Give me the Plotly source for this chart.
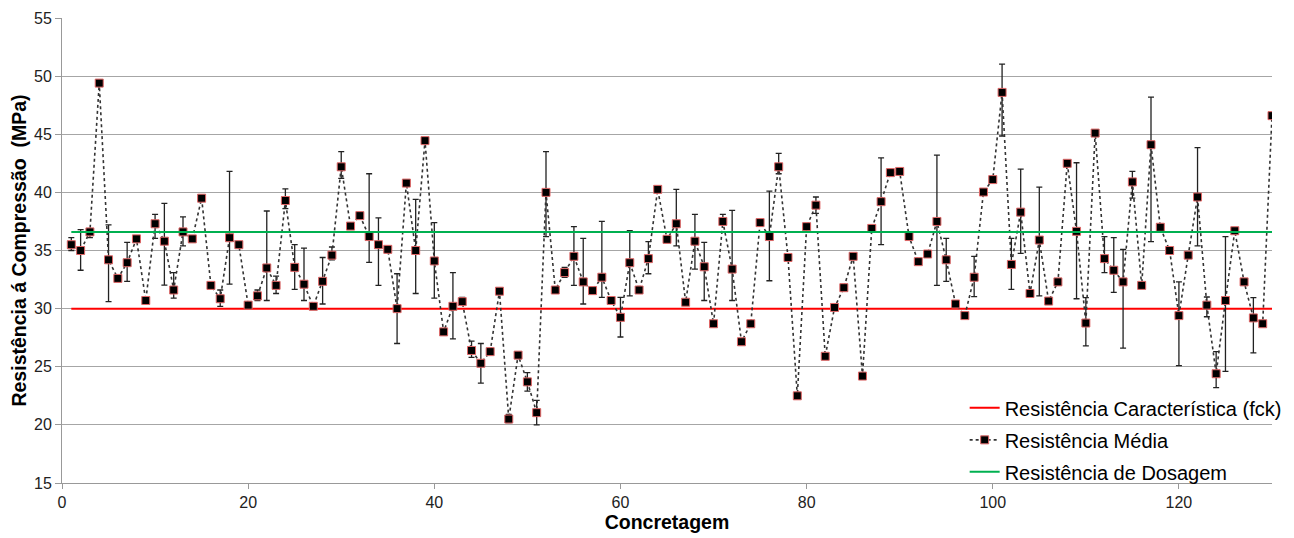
import plotly.graph_objects as go

concretagem = list(range(1, 131))

resistencia_media = [
    35.5, 35.0, 36.6, 49.4, 34.2, 32.6, 33.95, 36.0, 30.7, 37.3,
    35.8, 31.6, 36.6, 36.0, 39.5, 32.0, 30.85, 36.1, 35.5, 30.3,
    31.1, 33.5, 32.0, 39.3, 33.55, 32.1, 30.2, 32.35, 34.6, 42.2,
    37.1, 38.0, 36.2, 35.5, 35.1, 30.0, 40.8, 35.0, 44.45, 34.1,
    28.0, 30.2, 30.6, 26.4, 25.3, 26.3, 31.5, 20.5, 26.0, 23.7,
    21.05, 40.0, 31.6, 33.1, 34.5, 32.3, 31.55, 32.7, 30.7, 29.25,
    33.95, 31.6, 34.3, 40.26, 35.96, 37.3, 30.55, 35.8, 33.6, 28.7,
    37.5, 33.4, 27.15, 28.7, 37.4, 36.2, 42.2, 34.4, 22.5, 37.05,
    38.9, 25.9, 30.1, 31.8, 34.5, 24.2, 36.9, 39.2, 41.7, 41.8,
    36.2, 34.04, 34.7, 37.5, 34.2, 30.4, 29.4, 32.7, 40.03, 41.1,
    48.6, 33.8, 38.3, 31.3, 35.9, 30.65, 32.3, 42.5, 36.65, 28.76,
    45.1, 34.3, 33.3, 32.3, 40.9, 32.0, 44.1, 37.0, 35.0, 29.4,
    34.6, 39.6, 30.3, 24.4, 30.7, 36.7, 32.3, 29.2, 28.7, 46.6,
]

erro_sup = [
    36.1, 36.8, 36.8, None, 37.2, None, 35.7, None, None, 38.1,
    39.06, 33.1, 37.9, None, None, None, 31.6, 41.8, None, None,
    31.6, 38.4, 32.8, 40.3, 35.5, 35.2, None, 34.4, 35.3, 43.5,
    None, None, 41.6, 37.8, None, 33.0, None, 39.4, None, 37.4,
    None, 33.1, 30.97, 27.2, 27.0, None, None, 20.9, None, 24.5,
    22.1, 43.5, None, 33.55, 37.05, 36.05, None, 37.5, None, 30.97,
    36.7, None, 35.76, None, None, 40.26, None, 38.1, 35.7, None,
    38.1, 38.45, None, None, None, 40.1, 43.36, None, None, None,
    39.6, None, None, None, None, None, None, 42.96, None, None,
    None, None, None, 43.2, 36.05, None, None, 34.5, None, None,
    51.04, 36.05, 42.0, None, 40.46, None, None, None, 42.55, 30.94,
    None, 36.2, 36.1, 35.1, 41.8, None, 48.2, None, None, 32.3,
    None, 43.85, 31.0, 26.3, 36.2, None, None, 30.94, None, None,
]

erro_inf = [
    35.0, 33.3, 36.1, None, 30.6, None, 32.35, None, None, 36.05,
    32.03, 30.9, 35.4, None, None, None, 30.2, 32.1, None, None,
    30.7, 30.7, 31.3, 38.6, 31.65, 30.7, None, 30.4, 34.2, 41.2,
    None, None, 33.98, 32.0, None, 27.0, None, 31.3, None, 30.9,
    None, 27.4, 30.6, 25.8, 23.6, None, None, 20.2, None, 22.9,
    20.0, 36.2, None, 32.7, 32.0, 30.4, None, 30.97, None, 27.56,
    31.1, None, 33.0, None, None, 35.4, None, 33.4, 30.7, None,
    37.5, 30.7, None, None, None, 32.4, 41.6, None, None, None,
    38.2, None, None, None, None, None, None, 35.5, None, None,
    None, None, None, 32.0, 32.35, None, None, 31.03, None, None,
    44.85, 31.66, 34.76, None, 31.1, None, None, None, 30.85, 26.8,
    None, 33.1, 31.4, 26.6, 39.5, None, 35.76, None, None, 25.1,
    None, 35.4, 29.3, 23.2, 24.6, None, None, 26.2, None, None,
]

fck = 30.0
dosagem = 36.6

y_ticks = [15, 20, 25, 30, 35, 40, 45, 50, 55]
x_ticks = [0, 20, 40, 60, 80, 100, 120]

plus = [(s - m) if s is not None else 0 for s, m in zip(erro_sup, resistencia_media)]
minus = [(m - i) if i is not None else 0 for i, m in zip(erro_inf, resistencia_media)]

fig = go.Figure()

fig.add_trace(go.Scatter(
    x=concretagem, y=[fck] * len(concretagem), mode="lines",
    line=dict(color="#ff0000", width=2),
    name="Resistência Característica (fck)", legendgroup="a",
))
fig.add_trace(go.Scatter(
    x=concretagem, y=resistencia_media, mode="lines+markers",
    line=dict(color="#333333", width=1.6, dash="dot"),
    marker=dict(symbol="square", size=8, color="#000000",
                line=dict(color="#e06666", width=1)),
    error_y=dict(type="data", symmetric=False, array=plus, arrayminus=minus,
                 color="#222222", thickness=1.3, width=3),
    name="Resistência Média", legendgroup="b",
))
fig.add_trace(go.Scatter(
    x=concretagem, y=[dosagem] * len(concretagem), mode="lines",
    line=dict(color="#00b050", width=2),
    name="Resistência de Dosagem", legendgroup="c",
))

font_family = "Liberation Sans, Arial, sans-serif"

fig.update_layout(
    width=1286, height=530,
    margin=dict(l=54, r=22, t=10, b=55, autoexpand=False),
    plot_bgcolor="white", paper_bgcolor="white",
    font=dict(family=font_family, size=16, color="#222222"),
    showlegend=True,
    legend=dict(
        x=0.746, y=-0.018, xanchor="left", yanchor="bottom",
        bgcolor="rgba(255,255,255,0)", font=dict(size=20, color="#000000"),
        tracegroupgap=3, itemwidth=30,
    ),
    xaxis=dict(
        range=[0, 130], tickvals=x_ticks, showgrid=False,
        showline=True, linecolor="#999999", linewidth=1,
        ticks="outside", ticklen=5, tickcolor="#999999",
        zeroline=False, automargin=False,
        title=dict(text="<b>Concretagem</b>", font=dict(size=19.5, color="#000000"), standoff=4),
    ),
    yaxis=dict(
        range=[15, 55], tickvals=y_ticks, showgrid=True, gridcolor="#a6a6a6", gridwidth=1,
        showline=True, linecolor="#999999", linewidth=1,
        ticks="outside", ticklen=6, tickcolor="#999999",
        zeroline=False, automargin=False,
        title=dict(text="<b>Resistência á Compressão\u00a0 (MPa)</b>", font=dict(size=19.5, color="#000000"), standoff=5),
    ),
)

fig.write_html("out.html")
